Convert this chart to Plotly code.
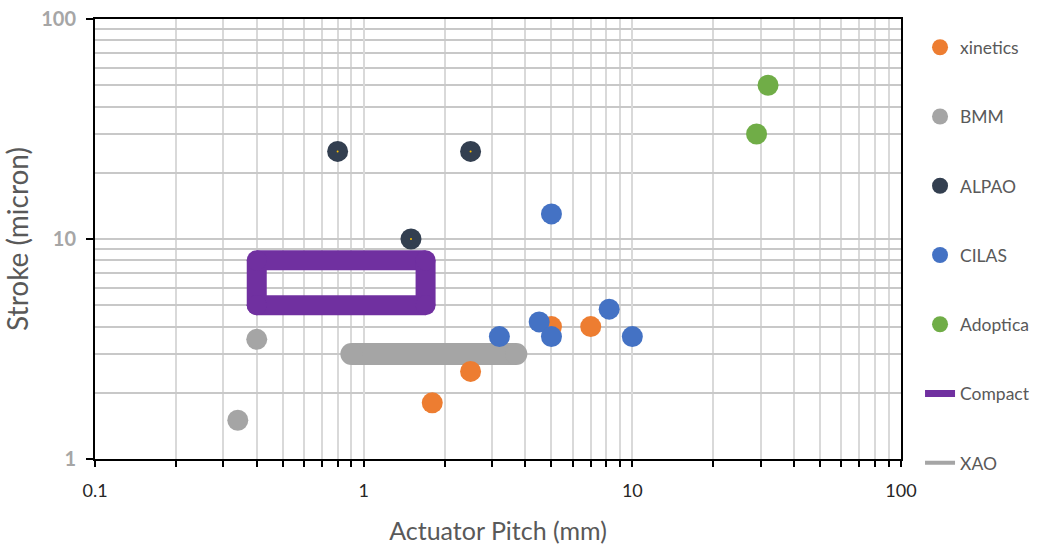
import plotly.graph_objects as go

# ---- data ----
xinetics_x = [1.8, 2.5, 5, 7]
xinetics_y = [1.8, 2.5, 4, 4]
bmm_x = [0.34, 0.4]
bmm_y = [1.5, 3.5]
alpao_x = [0.8, 2.5, 1.5]
alpao_y = [25, 25, 10]
cilas_x = [5, 3.2, 4.5, 5, 8.2, 10]
cilas_y = [13, 3.6, 4.2, 3.6, 4.8, 3.6]
adoptica_x = [32, 29]
adoptica_y = [50, 30]
compact_x = [0.4, 0.4, 1.7, 1.7, 0.4]
compact_y = [5, 8, 8, 5, 5]
xao_x = [0.9, 3.7]
xao_y = [3, 3]

x_ticks = [0.1, 1, 10, 100]
x_ticklabels = ["0.1", "1", "10", "100"]
y_ticks = [1, 10, 100]
y_ticklabels = ["1", "10", "100"]

C_ORANGE = "#ED7D31"
C_GRAY = "#A5A5A5"
C_NAVY = "#333F50"
C_BLUE = "#4472C4"
C_GREEN = "#70AD47"
C_PURPLE = "#7030A0"

FONT = "Lato, 'Open Sans', sans-serif"
MS = 21


def segments(xs, ys):
    """Split a polyline into separate segments so each corner gets a round marker cap."""
    sx, sy = [], []
    for i in range(len(xs) - 1):
        sx += [xs[i], xs[i + 1], None]
        sy += [ys[i], ys[i + 1], None]
    return sx, sy


fig = go.Figure()

# lines first (drawn under markers)
cx, cy = segments(compact_x, compact_y)
fig.add_trace(go.Scatter(x=cx, y=cy, mode="lines", connectgaps=False,
                         line=dict(color=C_PURPLE, width=20),
                         showlegend=False, hoverinfo="skip"))
fig.add_trace(go.Scatter(x=compact_x, y=compact_y, mode="markers",
                         marker=dict(color=C_PURPLE, size=20, line=dict(width=0)),
                         showlegend=False, hoverinfo="skip"))
fig.add_trace(go.Scatter(x=xao_x, y=xao_y, mode="lines+markers",
                         line=dict(color=C_GRAY, width=22),
                         marker=dict(color=C_GRAY, size=22, line=dict(width=0)),
                         showlegend=False, hoverinfo="skip"))


def pts(name, xs, ys, color, rank):
    fig.add_trace(go.Scatter(x=xs, y=ys, mode="markers", name=name,
                             marker=dict(color=color, size=MS, line=dict(width=0)),
                             legendgroup=name, legendrank=rank))


pts("xinetics", xinetics_x, xinetics_y, C_ORANGE, 1)
pts("BMM", bmm_x, bmm_y, C_GRAY, 2)
pts("ALPAO", alpao_x, alpao_y, C_NAVY, 3)
pts("CILAS", cilas_x, cilas_y, C_BLUE, 4)
pts("Adoptica", adoptica_x, adoptica_y, C_GREEN, 5)

# small yellow centre dots of ALPAO markers
fig.add_trace(go.Scatter(x=alpao_x, y=alpao_y, mode="markers",
                         marker=dict(color="#FFC000", size=2, line=dict(width=0)),
                         showlegend=False, hoverinfo="skip"))

# legend entries for the line series
fig.add_trace(go.Scatter(x=[None], y=[None], mode="lines", name="Compact",
                         line=dict(color=C_PURPLE, width=7),
                         legendgroup="Compact", legendrank=6))
fig.add_trace(go.Scatter(x=[None], y=[None], mode="lines", name="XAO",
                         line=dict(color=C_GRAY, width=4),
                         legendgroup="XAO", legendrank=7))

fig.update_layout(
    width=1039, height=547,
    margin=dict(l=95, r=138, t=19, b=88, autoexpand=False),
    paper_bgcolor="white", plot_bgcolor="white",
    font=dict(family=FONT, color="#595959"),
    legend=dict(x=0.8855, y=0.9463, xref="container", yref="container",
                xanchor="left", yanchor="top", maxheight=600,
                font=dict(size=17.5, color="#595959", family=FONT),
                tracegroupgap=43.5, itemwidth=30, bgcolor="rgba(0,0,0,0)"),
    xaxis=dict(type="log", range=[-1, 2], automargin=False,
               tickvals=x_ticks, ticktext=x_ticklabels,
               tickfont=dict(size=18, color="#262626", family=FONT),
               ticks="outside", ticklen=6, tickcolor="black", tickwidth=1.5,
               ticklabelstandoff=8, ticklabeloverflow="allow",
               showline=True, linecolor="black", linewidth=2, mirror=True,
               showgrid=True, gridcolor="#D9D9D9", gridwidth=1.5,
               minor=dict(dtick="D1", showgrid=True, gridcolor="#D9D9D9", gridwidth=1.5,
                          ticks="outside", ticklen=6, tickcolor="black", tickwidth=1.5),
               zeroline=False,
               title=dict(text="Actuator Pitch (mm)", font=dict(size=25, color="#595959", family=FONT),
                          standoff=23)),
    yaxis=dict(type="log", range=[0, 2], automargin=False,
               tickvals=y_ticks, ticktext=y_ticklabels,
               tickfont=dict(size=20, color="#A6A6A6", family=FONT, weight="bold"),
               ticks="outside", ticklen=7, tickcolor="black", tickwidth=1.5,
               ticklabelstandoff=6, ticklabeloverflow="allow",
               showline=True, linecolor="black", linewidth=2, mirror=True,
               showgrid=True, gridcolor="#C8C8C8", gridwidth=1.5,
               minor=dict(dtick="D1", showgrid=True, gridcolor="#C8C8C8", gridwidth=1.5),
               zeroline=False,
               title=dict(text="Stroke (micron)", font=dict(size=28, color="#595959", family=FONT),
                          standoff=13)),
    xaxis2=dict(type="log", range=[-1, 2], overlaying="x", anchor="y", side="bottom",
                automargin=False,
                tickvals=x_ticks, showticklabels=False, showgrid=False, zeroline=False,
                ticks="inside", ticklen=6, tickcolor="black", tickwidth=1.5,
                minor=dict(dtick="D1", showgrid=False,
                           ticks="inside", ticklen=6, tickcolor="black", tickwidth=1.5)),
)

# remove the default 8px page margin so the 1039x547 figure fills the window
fig.write_html("out.html", config={"displayModeBar": False},
               post_script="document.body.style.margin='0';")
